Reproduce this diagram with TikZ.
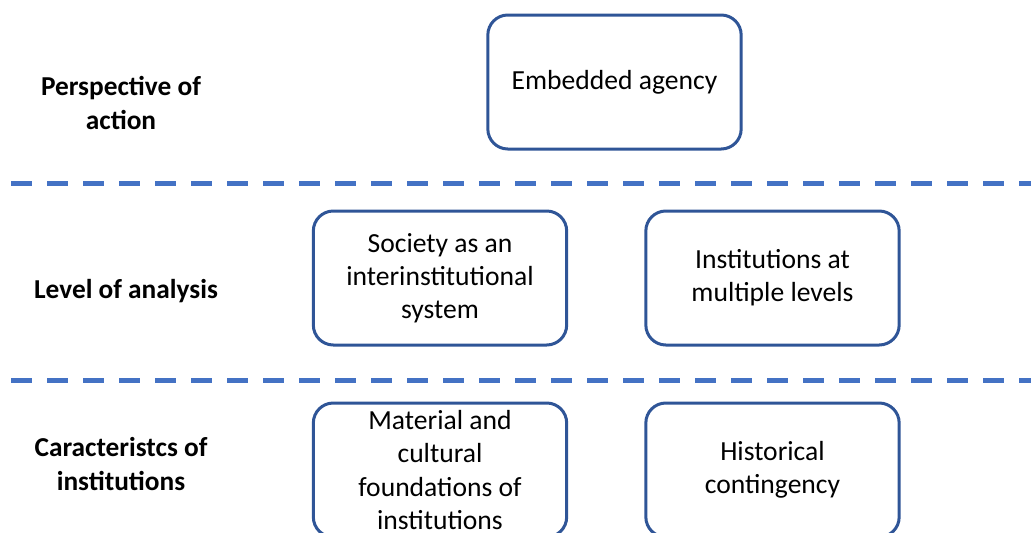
\documentclass[tikz,border=0pt]{standalone}
\usepackage{fontspec}
\setmainfont{Carlito}
\usetikzlibrary{positioning}
\definecolor{boxblue}{HTML}{2F5597}
\definecolor{lineblue}{HTML}{4472C4}
\tikzstyle{block}=[draw=boxblue,line width=2.25pt,rounded corners=15pt,minimum width=190pt,minimum height=100.5pt,align=center,font=\fontsize{20.7}{24.9}\selectfont,inner sep=0pt]
\tikzstyle{rowlabel}=[align=center,font=\fontsize{20.5}{24.9}\selectfont\bfseries]
\tikzstyle{divider}=[draw=lineblue,line width=3.75pt,dash pattern=on 15.75pt off 11.25pt]

\begin{document}
\begin{tikzpicture}[x=0.75pt,y=-0.75pt]

    \useasboundingbox (0,0) rectangle (1031,532);
    \clip (0,0) rectangle (1031,532);

    % row labels
    \node[rowlabel] (action) at (121,103) {Perspective of\\action};
    \node[rowlabel] (analysis) at (126,291) {Level of analysis};
    \node[rowlabel] (features) at (121,464) {Caracteristcs of\\institutions};

    % boxes
    \node[block] (agency) at (614.5,82) {\raisebox{-2pt}{Embedded agency}};
    \node[block] (society) at (440,278) {Society as an\\interinstitutional\\system};
    \node[block] (levels) at (772.5,278) {Institutions at\\multiple levels};
    \node[block] (material) at (440,470) {Material and\\cultural\\foundations of\\institutions};
    \node[block] (history) at (772.5,470) {Historical\\contingency};

    % dashed separators
    \foreach \y/\name in {183/top, 380/bottom}{
        \coordinate (\name west) at (11,\y);
        \coordinate (\name east) at (1040,\y);
        \path[divider] (\name west) -- (\name east);
    }

\end{tikzpicture}
\end{document}
